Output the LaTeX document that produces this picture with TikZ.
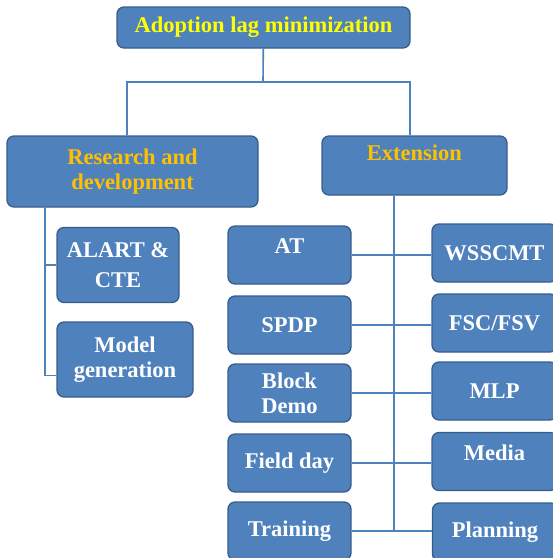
\documentclass[tikz,border=0pt]{standalone}
\usepackage{fontspec}
\setmainfont{Liberation Serif}
\usetikzlibrary{calc}

\definecolor{boxfill}{HTML}{4F81BD}
\definecolor{boxline}{HTML}{385D8A}
\definecolor{headtext}{HTML}{FFFF00}
\definecolor{subtext}{HTML}{FFC000}

\tikzset{
    box/.style={draw=boxline, line width=1.3pt, fill=boxfill, rounded corners=7pt,
        text=white, align=center, font=\fontsize{22.5}{25}\selectfont\bfseries,
        inner sep=0pt},
    link/.style={draw=boxfill, line width=1.6pt}
}

\begin{document}
\begin{tikzpicture}[x=1pt,y=-1pt]
        \clip (0,0) rectangle (553,558);
        \useasboundingbox (0,0) rectangle (553,558);

        % Kopf und zweite Ebene
        \node[box, minimum width=293pt, minimum height=41pt, text=headtext] (top) at (263.5,27.5) {Adoption lag minimization};
        \node[box, minimum width=251pt, minimum height=71pt, text=subtext] (rd) at (132.5,171.5) {Research and\\development};
        \node[box, minimum width=185pt, minimum height=59pt, text=subtext] (ext) at (414.5,165.5) {Extension\\~};

        % Forschung
        \node[box, minimum width=122pt, minimum height=75pt] (alart) at (118,265) {ALART \&\\[5pt]CTE};
        \node[box, minimum width=136pt, minimum height=75pt] (model) at (125,359.5) {Model\\generation};

        % Beratung, linke Spalte
        \node[box, minimum width=123pt, minimum height=58pt] (at)       at (289.5,255) {AT\\[-8pt]~};
        \node[box, minimum width=123pt, minimum height=58pt] (spdp)     at (289.5,325) {SPDP};
        \node[box, minimum width=123pt, minimum height=58pt] (block)    at (289.5,393) {Block\\Demo};
        \node[box, minimum width=123pt, minimum height=58pt] (field)    at (289.5,463) {Field day};
        \node[box, minimum width=123pt, minimum height=58pt] (training) at (289.5,531) {Training};

        % Beratung, rechte Spalte
        \node[box, minimum width=125pt, minimum height=58pt] (wsscmt)   at (494.5,253) {WSSCMT};
        \node[box, minimum width=125pt, minimum height=58pt] (fsc)      at (494.5,323) {FSC/FSV};
        \node[box, minimum width=125pt, minimum height=58pt] (mlp)      at (494.5,391) {MLP};
        \node[box, minimum width=125pt, minimum height=58pt] (media)    at (494.5,461.5) {Media\\[-8pt]~};
        \node[box, minimum width=125pt, minimum height=58pt] (planning) at (495,532)   {Planning};

        % Verbindungen
        \coordinate (split) at (263,82);
        \draw[link] (top) -- (split);
        \draw[link] (split) -| ([xshift=-5.5pt]rd.north);
        \draw[link] (split) -| ([xshift=-4.5pt]ext.north);

        \coordinate (rdtrunk) at ([xshift=-87.5pt,yshift=12pt]rd.south);
        \draw[link] (rdtrunk) |- ([yshift=-16pt]model.west);
        \draw[link] (rdtrunk |- alart.west) -- (alart.west);

        \draw[link] ([xshift=-20.5pt]ext.south) |- (training.east);
        \foreach \l/\r in {at/wsscmt, spdp/fsc, block/mlp, field/media, training/planning}
            \draw[link] (\l.east) -- (\l.east -| \r.west);
\end{tikzpicture}
\end{document}
